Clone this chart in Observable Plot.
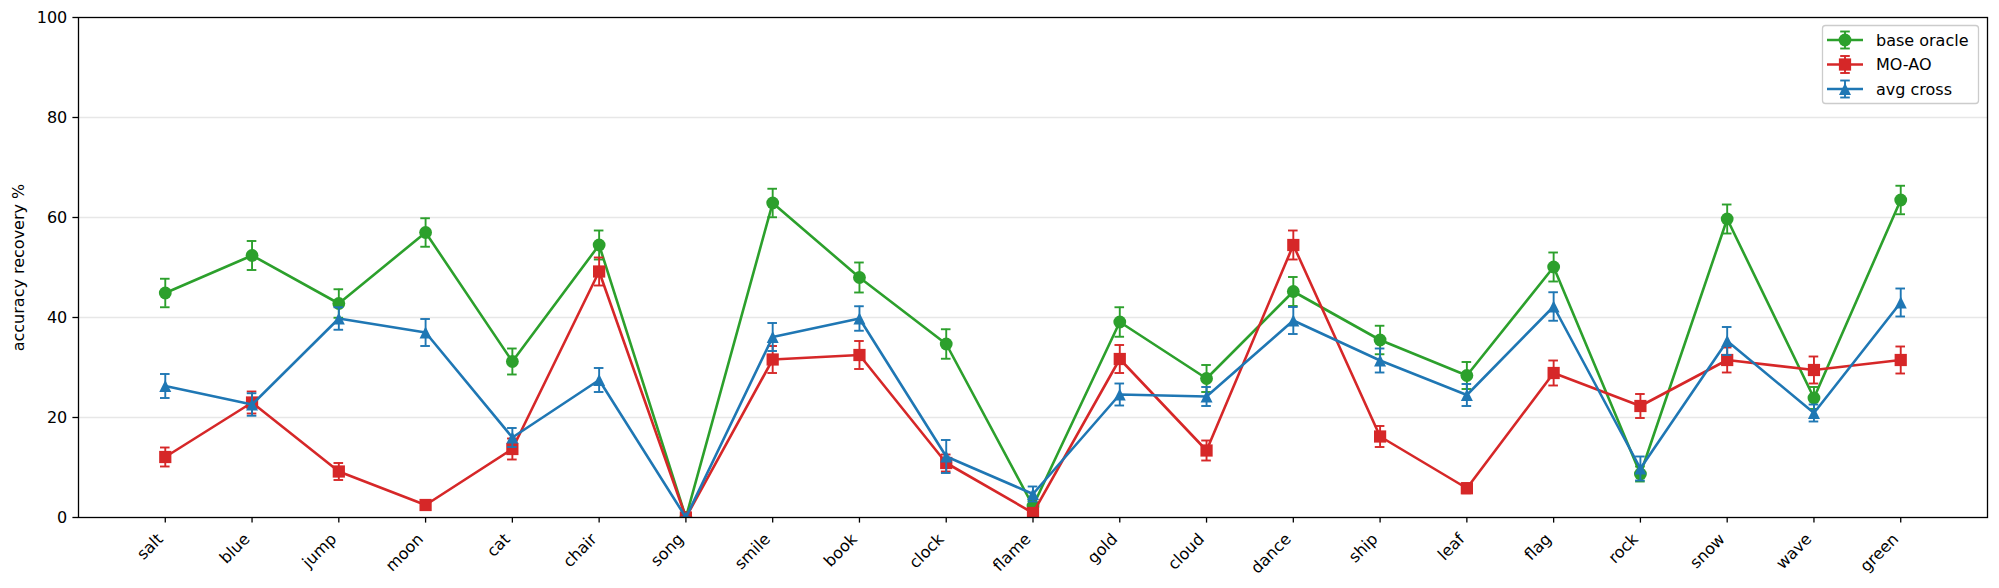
<!DOCTYPE html>
<html>
<head>
<meta charset="utf-8">
<script src="https://cdn.jsdelivr.net/npm/d3@7"></script>
<script src="https://cdn.jsdelivr.net/npm/@observablehq/plot@0.6"></script>
<style>
  body { margin: 0; background: #fff; font-family: "DejaVu Sans", sans-serif; }
</style>
</head>
<body>
<div id="chart"></div>
<script>
// ---------- data ----------
const categories = ["salt","blue","jump","moon","cat","chair","song","smile","book","clock","flame",
                    "gold","cloud","dance","ship","leaf","flag","rock","snow","wave","green"];

const seriesNames   = ["base oracle", "MO-AO", "avg cross"];
const seriesColors  = ["#2ca02c", "#d62728", "#1f77b4"];
const seriesSymbols = ["circle", "square", "triangle"];

const baseOracle    = [44.9, 52.4, 42.8, 57.0, 31.2, 54.5, 0.0, 62.9, 48.0, 34.7, 2.3,
                       39.1, 27.8, 45.2, 35.5, 28.4, 50.1, 8.7, 59.7, 23.9, 63.5];
const baseOracleErr = [2.85, 2.9, 2.85, 2.85, 2.6, 2.9, 0.0, 2.85, 3.0, 2.95, 1.0,
                       2.95, 2.7, 2.9, 2.85, 2.7, 2.9, 1.5, 2.9, 2.2, 2.85];

const moao          = [12.1, 23.0, 9.2, 2.5, 13.7, 49.2, 0.0, 31.6, 32.5, 10.9, 0.9,
                       31.7, 13.4, 54.5, 16.2, 5.85, 28.9, 22.3, 31.5, 29.5, 31.5];
const moaoErr       = [1.9, 2.2, 1.7, 0.8, 2.1, 2.8, 0.0, 2.7, 2.8, 1.7, 0.6,
                       2.8, 2.0, 2.9, 2.1, 1.0, 2.5, 2.4, 2.5, 2.7, 2.7];

const avgCross      = [26.3, 22.6, 39.8, 37.0, 16.0, 27.5, 0.0, 36.1, 39.8, 12.2, 4.7,
                       24.6, 24.2, 39.4, 31.4, 24.5, 42.2, 9.8, 35.3, 20.9, 43.0];
const avgCrossErr   = [2.4, 2.25, 2.25, 2.7, 1.9, 2.4, 0.0, 2.8, 2.45, 3.3, 1.5,
                       2.2, 1.9, 2.7, 2.4, 2.2, 2.85, 2.4, 2.8, 1.7, 2.8];

const yTicks = [0, 20, 40, 60, 80, 100];
const yLabel = "accuracy recovery %";

// ---------- build ----------
const seriesValues = [baseOracle, moao, avgCross];
const seriesErrors = [baseOracleErr, moaoErr, avgCrossErr];

const triangleSymbol = {
  draw(context, size) {
    const a = Math.sqrt(size / Math.PI);
    context.moveTo(0, -a);
    context.lineTo(a, a);
    context.lineTo(-a, a);
    context.closePath();
  }
};
const symbolMap = { circle: "circle", square: "square", triangle: triangleSymbol };
const radiusMap = { circle: 6.4, square: 6.9, triangle: 6.0 };
const lineW = 2.6, errW = 1.9;

const table = seriesNames.flatMap((name, s) =>
  categories.map((cat, i) => ({ series: name, s, cat, v: seriesValues[s][i], e: seriesErrors[s][i] })));

const marks = [
  Plot.gridY(yTicks.slice(1, -1), { stroke: "#b0b0b0", strokeOpacity: 0.3, strokeWidth: 1.3 })
];

seriesNames.forEach((name, s) => {
  const d = table.filter(r => r.s === s);
  const col = seriesColors[s];
  const sym = seriesSymbols[s];
  marks.push(
    Plot.ruleX(d, { x: "cat", y1: r => r.v - r.e, y2: r => r.v + r.e, stroke: col, strokeWidth: errW, clip: true }),
    Plot.ruleY(d, { x1: "cat", x2: "cat", y: r => r.v + r.e, insetLeft: -4.8, insetRight: -4.8, stroke: col, strokeWidth: errW, clip: true }),
    Plot.ruleY(d, { x1: "cat", x2: "cat", y: r => r.v - r.e, insetLeft: -4.8, insetRight: -4.8, stroke: col, strokeWidth: errW, clip: true }),
    Plot.line(d, { x: "cat", y: "v", stroke: col, strokeWidth: lineW, clip: true }),
    Plot.dot(d, { x: "cat", y: "v", symbol: symbolMap[sym], r: radiusMap[sym], fill: col, clip: true })
  );
});

marks.push(
  Plot.axisY({ ticks: yTicks, tickSize: 5.6, tickPadding: 5.6, strokeWidth: 1.3, label: null, fontSize: 16, tickFormat: d => String(d) }),
  Plot.axisX({ tickSize: 5.6, strokeWidth: 1.3, label: null, fill: "none" }),
  Plot.text(categories, { x: d => d, frameAnchor: "bottom", rotate: -45, textAnchor: "end", lineAnchor: "middle",
                          dx: -5, dy: 19, fontSize: 16 }),
  Plot.text([yLabel], { frameAnchor: "left", dx: -60, rotate: -90, textAnchor: "middle", lineAnchor: "middle", fontSize: 16 }),
  Plot.frame({ stroke: "#000", strokeWidth: 1.3 })
);

const chart = Plot.plot({
  width: 1999,
  height: 588,
  marginLeft: 78,
  marginRight: 12,
  marginTop: 17,
  marginBottom: 71,
  style: { fontFamily: "DejaVu Sans", fontSize: "16px", color: "#000", background: "#fff" },
  x: { type: "point", domain: categories, padding: 1, round: false, label: null },
  y: { domain: [0, 100], label: null },
  marks
});
document.getElementById("chart").appendChild(chart);

// ---------- legend (inside the plot's SVG, upper right) ----------
const svgSel = d3.select(chart.tagName.toLowerCase() === "svg" ? chart : chart.querySelector("svg"));
const lg = svgSel.append("g").attr("font-family", "DejaVu Sans").attr("font-size", 16).attr("text-anchor", "start");
lg.append("rect").attr("x", 1822.5).attr("y", 25.5).attr("width", 156).attr("height", 78).attr("rx", 3)
  .attr("fill", "#fff").attr("fill-opacity", 0.8).attr("stroke", "#cccccc").attr("stroke-width", 1.3);
const rowCenters = [40, 64.5, 89];
seriesNames.forEach((name, s) => {
  const col = seriesColors[s];
  const sym = seriesSymbols[s];
  const cy = rowCenters[s], cx = 1845;
  lg.append("line").attr("x1", 1827).attr("x2", 1863).attr("y1", cy).attr("y2", cy)
    .attr("stroke", col).attr("stroke-width", lineW);
  lg.append("line").attr("x1", cx).attr("x2", cx).attr("y1", cy - 8.5).attr("y2", cy + 8.5)
    .attr("stroke", col).attr("stroke-width", errW);
  [cy - 8.5, cy + 8.5].forEach(yy =>
    lg.append("line").attr("x1", cx - 4.8).attr("x2", cx + 4.8).attr("y1", yy).attr("y2", yy)
      .attr("stroke", col).attr("stroke-width", errW));
  const r = radiusMap[sym];
  const symType = sym === "circle" ? d3.symbolCircle : sym === "square" ? d3.symbolSquare : triangleSymbol;
  lg.append("path").attr("transform", `translate(${cx},${cy})`)
    .attr("d", d3.symbol(symType, Math.PI * r * r)()).attr("fill", col);
  lg.append("text").attr("x", 1876).attr("y", cy).attr("dy", "0.35em").attr("text-anchor", "start")
    .attr("fill", "#000").text(name);
});
</script>
</body>
</html>
